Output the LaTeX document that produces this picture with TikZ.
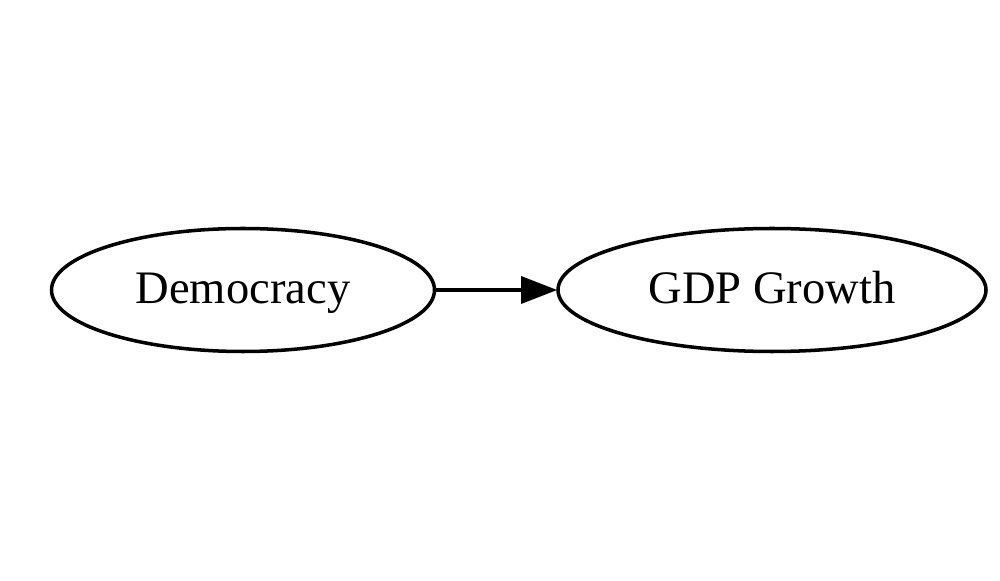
\documentclass[tikz,border=0pt]{standalone}
\usepackage{fontspec}
\setmainfont{Liberation Serif}
\usetikzlibrary{shapes.geometric,arrows.meta}
\begin{document}
\begin{tikzpicture}[
  ell/.style={ellipse, draw=black, line width=2pt, inner sep=0pt, text height=0.6cm, text depth=0.068cm, font=\fontsize{26.5}{30}\selectfont},
  conn/.style={line width=2pt, -{Triangle[length=0.72cm,width=0.54cm]}, shorten >=-0.5pt}
]
\useasboundingbox (0,0) rectangle (20,11.6);
\node[ell, minimum width=7.66cm, minimum height=2.46cm] (dem) at (4.86,5.8) {Democracy};
\node[ell, minimum width=8.56cm, minimum height=2.46cm] (gdp) at (15.44,5.8) {GDP Growth};
\draw[conn] (dem) -- (gdp);
\end{tikzpicture}
\end{document}
